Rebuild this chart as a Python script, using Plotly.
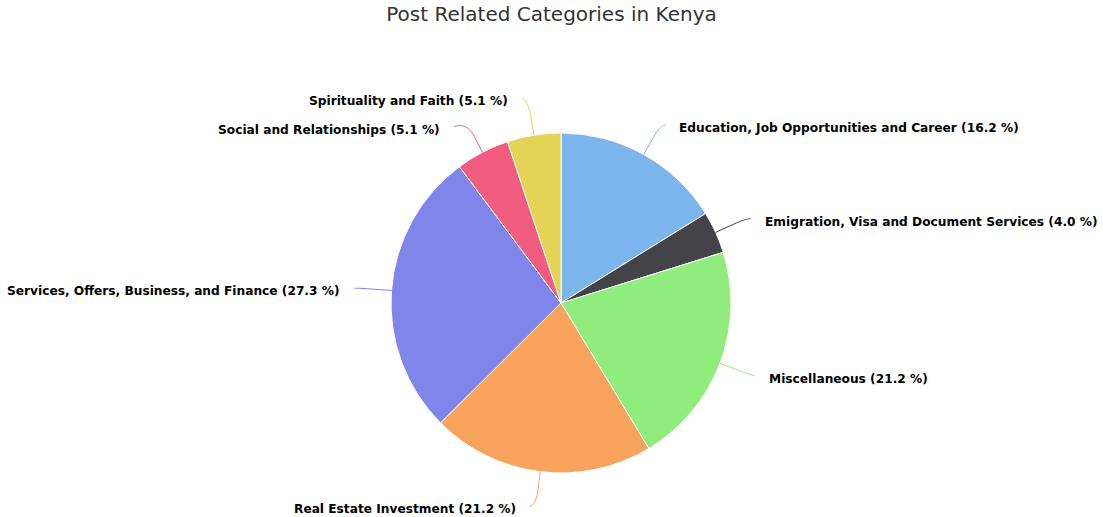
import math
import plotly.graph_objects as go

# ---- data ----
categories = [
    "Education, Job Opportunities and Career",
    "Emigration, Visa and Document Services",
    "Miscellaneous",
    "Real Estate Investment",
    "Services, Offers, Business, and Finance",
    "Social and Relationships",
    "Spirituality and Faith",
]
shares = [16.2, 4.0, 21.2, 21.2, 27.3, 5.1, 5.1]
colors = ["#7cb5ec", "#434348", "#90ed7d", "#f7a35c", "#8085e9", "#f15c80", "#e4d354"]
title_text = "Post Related Categories in Kenya"

# ---- layout geometry ----
W, H = 1103, 517
CX, CY, R = 561, 303, 170
DIST = 30          # label distance beyond the pie edge
GAP = 19           # text offset from label anchor
CONN_PAD = 12      # connector end offset from text
MIN_SEP = 29       # min vertical separation of labels on one side

def px(x):
    return x / W

def py(y):
    return 1 - y / H

fig = go.Figure(go.Pie(
    labels=categories,
    values=shares,
    marker=dict(colors=colors, line=dict(color="#ffffff", width=1)),
    sort=False,
    direction="clockwise",
    rotation=0,
    textinfo="none",
    hoverinfo="label+percent",
    showlegend=False,
    domain=dict(x=[px(CX - R), px(CX + R)], y=[py(CY + R), py(CY - R)]),
))

# ---- compute label positions from the data ----
total = sum(shares)
items = []
cum = 0.0
for lab, v, col in zip(categories, shares, colors):
    mid = (cum + v / 2) / total * 2 * math.pi
    cum += v
    s, c = math.sin(mid), math.cos(mid)
    nx = CX + (R + DIST) * s
    ny = CY - (R + DIST) * c + 3.5 - 4 * c
    items.append(dict(label=lab, value=v, color=col, s=s, c=c,
                      nx=nx, y=ny, side="right" if s >= 0 else "left"))

# resolve vertical overlaps on each side
for side in ("left", "right"):
    grp = sorted([it for it in items if it["side"] == side], key=lambda d: d["y"])
    for _ in range(50):
        moved = False
        for a, b in zip(grp, grp[1:]):
            d = b["y"] - a["y"]
            if d < MIN_SEP:
                k = (MIN_SEP - d) / 2
                a["y"] -= k
                b["y"] += k
                moved = True
        if not moved:
            break

RL = R + DIST
for it in items:
    dy = it["y"] - CY
    gx = math.sqrt(max(0.0, RL * RL - dy * dy))
    if it["side"] == "right":
        ax = max(it["nx"], CX + gx)
        tx = ax + GAP
        ex = tx - CONN_PAD
        anchor = "left"
    else:
        ax = min(it["nx"], CX - gx)
        tx = ax - GAP
        ex = tx + CONN_PAD
        anchor = "right"
    ey = it["y"] - 3
    # connector: edge point -> break point -> soft curve to label
    t0x, t0y = CX + R * it["s"], CY - R * it["c"]
    bx, by = CX + (R + 0.6 * DIST) * it["s"], CY - (R + 0.6 * DIST) * it["c"]
    c1x, c1y = 2 * bx - t0x, 2 * by - t0y
    path = (f"M {px(t0x)} {py(t0y)} L {px(bx)} {py(by)} "
            f"C {px(c1x)} {py(c1y)} {px(ex)} {py(ey)} {px(ex)} {py(ey)}")
    fig.add_shape(type="path", path=path, xref="paper", yref="paper",
                  line=dict(color=it["color"], width=1), layer="above")
    fig.add_annotation(
        x=px(tx), y=py(it["y"]), xref="paper", yref="paper",
        xanchor=anchor, yanchor="middle", showarrow=False,
        text=f"<b>{it['label']} ({it['value']:.1f} %)</b>",
        font=dict(family="DejaVu Sans, Verdana, sans-serif", size=12.2, color="#000000"),
    )

fig.update_layout(
    width=W, height=H,
    margin=dict(l=0, r=0, t=0, b=0),
    paper_bgcolor="#ffffff",
    plot_bgcolor="#ffffff",
    title=dict(text=title_text, x=0.5, xanchor="center", y=1 - 14 / H, yanchor="middle",
               font=dict(family="DejaVu Sans, Verdana, sans-serif", size=20, color="#333333")),
)

fig.write_html("out.html", config={"displayModeBar": False},
               post_script="document.body.style.margin='0px';")
